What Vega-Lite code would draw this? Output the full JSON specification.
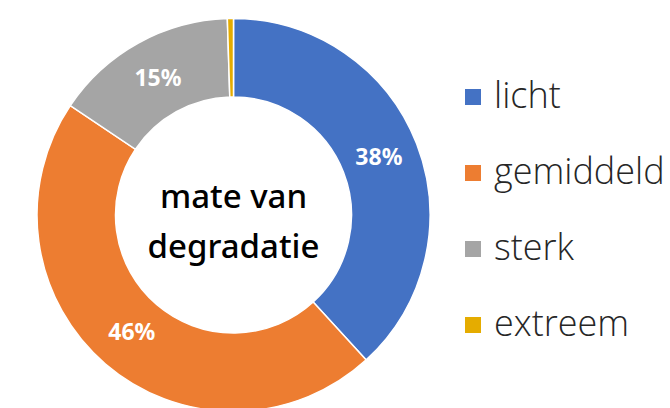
{
  "$schema": "https://vega.github.io/schema/vega-lite/v6.json",
  "width": 467,
  "height": 386,
  "autosize": "none",
  "padding": {"left": 0, "top": 22, "right": 203, "bottom": 0},
  "background": "white",
  "config": {"view": {"stroke": null}},
  "layer": [
    {
      "data": {"values": [
        {"cat": "licht", "value": 38.2, "label": "38%"},
        {"cat": "gemiddeld", "value": 46.2, "label": "46%"},
        {"cat": "sterk", "value": 15.1, "label": "15%"},
        {"cat": "extreem", "value": 0.5, "label": ""}
      ]},
      "encoding": {
        "theta": {"field": "value", "type": "quantitative", "stack": true},
        "order": {"field": "idx", "type": "quantitative"}
      },
      "layer": [
        {
          "mark": {"type": "arc", "outerRadius": 196.5, "innerRadius": 118, "stroke": "white", "strokeWidth": 1.5},
          "encoding": {
            "color": {
              "field": "cat", "type": "nominal",
              "scale": {"domain": ["licht", "gemiddeld", "sterk", "extreem"], "range": ["#4472C4", "#ED7D31", "#A5A5A5", "#E5AC00"]},
              "sort": ["licht", "gemiddeld", "sterk", "extreem"],
              "legend": {
                "orient": "none", "legendX": 455, "legendY": 57, "title": null,
                "symbolType": "square", "symbolSize": 256, "symbolStrokeWidth": 0,
                "labelFont": "Open Sans", "labelFontWeight": 300, "labelFontSize": 36, "labelColor": "#262626",
                "labelOffset": 3, "rowPadding": 40, "padding": 0, "labelLimit": 300
              }
            }
          }
        },
        {
          "mark": {"type": "text", "radius": 156, "font": "Noto Sans", "fontWeight": "bold", "fontSize": 23, "fill": "white"},
          "encoding": {"text": {"field": "label"}}
        }
      ]
    },
    {
      "data": {"values": [{"title": "mate van\ndegradatie"}]},
      "mark": {"type": "text", "lineBreak": "\n", "lineHeight": 50, "font": "Noto Sans", "fontWeight": 500, "fontSize": 33, "fill": "black", "dy": -17},
      "encoding": {"text": {"field": "title"}}
    }
  ]
}
